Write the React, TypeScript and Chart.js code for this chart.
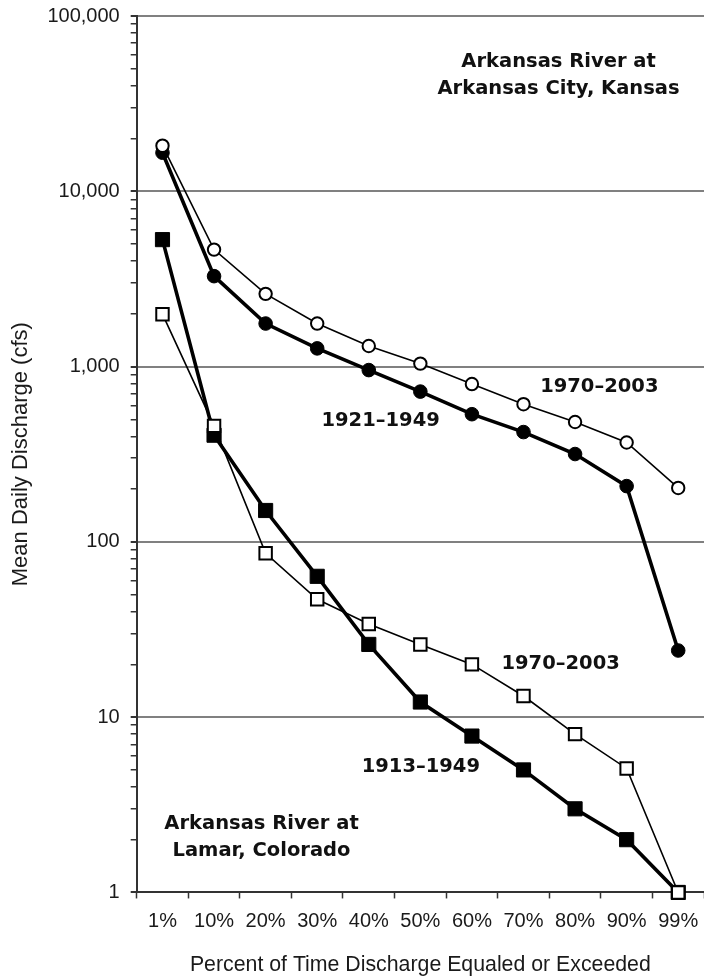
import React, { useEffect, useRef } from 'react';
import { Chart, registerables } from 'chart.js';

Chart.register(...registerables);

const CATEGORIES = ['1%', '10%', '20%', '30%', '40%', '50%', '60%', '70%', '80%', '90%', '99%'];

const KANSAS_1970_2003 = [18200, 4650, 2600, 1760, 1310, 1040, 795, 610, 483, 369, 203];
const KANSAS_1921_1949 = [16600, 3280, 1760, 1270, 955, 720, 535, 423, 317, 208, 24];
const LAMAR_1970_2003 = [1990, 459, 86, 47, 34, 26, 20, 13.2, 8, 5.1, 1];
const LAMAR_1913_1949 = [5300, 406, 151, 63.6, 26, 12.2, 7.8, 5, 3, 2, 1];

const Y_MAJOR_TICKS = [1, 10, 100, 1000, 10000, 100000];
const Y_TICK_LABELS = ['1', '10', '100', '1,000', '10,000', '100,000'];
const Y_MINOR_STEPS = [2, 3, 4, 5, 6, 7, 8, 9];

const X_TITLE = 'Percent of Time Discharge Equaled or Exceeded';
const Y_TITLE = 'Mean Daily Discharge (cfs)';

const ANNOTATION_LINES = [
  ['Arkansas River at', 'Arkansas City, Kansas'],
  ['1970–2003'],
  ['1921–1949'],
  ['1970–2003'],
  ['1913–1949'],
  ['Arkansas River at', 'Lamar, Colorado'],
];
const ANNOTATION_X = [7.68, 8.47, 4.23, 7.72, 5.01, 1.92];
const ANNOTATION_Y = [46000, 763, 490, 20, 5.19, 2.07];

const SANS = '"Liberation Sans", Arial, sans-serif';
const BOLD = '"DejaVu Sans", Verdana, sans-serif';

const isMajor = (v: number) => Y_MAJOR_TICKS.indexOf(v) >= 0;

const annotationPlugin = {
  id: 'textAnnotations',
  afterDatasetsDraw(chart: any) {
    const { ctx, scales } = chart;
    const xs = scales.x;
    const ys = scales.y;
    ctx.save();
    ctx.font = `bold 19.5px ${BOLD}`;
    ctx.fillStyle = '#111';
    ctx.textAlign = 'center';
    ctx.textBaseline = 'middle';
    const lh = 27;
    ANNOTATION_LINES.forEach((lines, i) => {
      const px = xs.getPixelForValue(ANNOTATION_X[i]);
      const py = ys.getPixelForValue(ANNOTATION_Y[i]);
      const n = lines.length;
      lines.forEach((line, j) => {
        ctx.fillText(line, px, py + (j - (n - 1) / 2) * lh);
      });
    });
    ctx.restore();
  },
};

export default function App() {
  const canvasRef = useRef<HTMLCanvasElement | null>(null);

  useEffect(() => {
    if (!canvasRef.current) return;
    const openPoint = {
      borderColor: '#000',
      pointBackgroundColor: '#fff',
      pointBorderColor: '#000',
      pointBorderWidth: 2,
      borderWidth: 1.6,
    };
    const filledPoint = {
      borderColor: '#000',
      pointBackgroundColor: '#000',
      pointBorderColor: '#000',
      pointBorderWidth: 1,
      borderWidth: 3.6,
    };
    const chart = new Chart(canvasRef.current, {
      type: 'line',
      data: {
        labels: CATEGORIES,
        datasets: [
          { label: 'Arkansas City 1970–2003', data: KANSAS_1970_2003, pointStyle: 'circle', pointRadius: 6.2, ...openPoint, clip: false } as any,
          { label: 'Lamar 1970–2003', data: LAMAR_1970_2003, pointStyle: 'rect', pointRadius: 8.8, ...openPoint, clip: false } as any,
          { label: 'Arkansas City 1921–1949', data: KANSAS_1921_1949, pointStyle: 'circle', pointRadius: 6.8, ...filledPoint, clip: false } as any,
          { label: 'Lamar 1913–1949', data: LAMAR_1913_1949, pointStyle: 'rect', pointRadius: 10, ...filledPoint, clip: false } as any,
        ],
      },
      options: {
        animation: false,
        responsive: true,
        maintainAspectRatio: false,
        layout: { autoPadding: false, padding: { left: 4, right: 0, top: 0, bottom: -1 } },
        elements: { line: { tension: 0 } },
        plugins: {
          legend: { display: false },
          tooltip: { enabled: false },
        },
        scales: {
          x: {
            type: 'category',
            offset: true,
            grid: {
              offset: true,
              drawOnChartArea: false,
              drawTicks: true,
              tickLength: 6,
              tickColor: '#333',
              tickWidth: 1.5,
            },
            border: { display: true, color: '#333', width: 2 },
            ticks: {
              font: { family: SANS, size: 20, lineHeight: 2 },
              color: '#1a1a1a',
              padding: 3,
              maxRotation: 0,
              autoSkip: false,
            },
            title: {
              display: true,
              text: X_TITLE,
              font: { family: SANS, size: 21.3 },
              color: '#1a1a1a',
              padding: { top: 8, bottom: 0 },
            },
          },
          y: {
            type: 'logarithmic',
            min: 1,
            max: 100000,
            afterBuildTicks: (scale: any) => {
              const ticks: any[] = [];
              Y_MAJOR_TICKS.forEach((m, i) => {
                ticks.push({ value: m, major: true });
                if (i < Y_MAJOR_TICKS.length - 1) {
                  Y_MINOR_STEPS.forEach((s) => ticks.push({ value: m * s, major: false }));
                }
              });
              scale.ticks = ticks;
            },
            grid: {
              color: (c: any) => {
                const v = c.tick ? c.tick.value : 0;
                return isMajor(v) && v !== 1 ? '#808080' : 'rgba(0,0,0,0)';
              },
              lineWidth: (c: any) => (c.tick && isMajor(c.tick.value) ? 2 : 1.5),
              tickColor: '#333',
              tickLength: 6,
              drawTicks: true,
            },
            border: { display: true, color: '#333', width: 2 },
            ticks: {
              autoSkip: false,
              padding: 11,
              font: { family: SANS, size: 20, lineHeight: 0.5 },
              color: '#1a1a1a',
              callback: (v: any) => {
                const idx = Y_MAJOR_TICKS.indexOf(Number(v));
                return idx >= 0 ? Y_TICK_LABELS[idx] : '';
              },
            },
            title: {
              display: true,
              text: Y_TITLE,
              font: { family: SANS, size: 22 },
              color: '#1a1a1a',
              padding: { top: 4, bottom: 2 },
            },
          },
        },
      } as any,
      plugins: [annotationPlugin],
    });
    return () => chart.destroy();
  }, []);

  return (
    <div style={{ position: 'absolute', left: 0, top: 0, width: 704, height: 977, background: '#fff' }}>
      <canvas ref={canvasRef} />
    </div>
  );
}
